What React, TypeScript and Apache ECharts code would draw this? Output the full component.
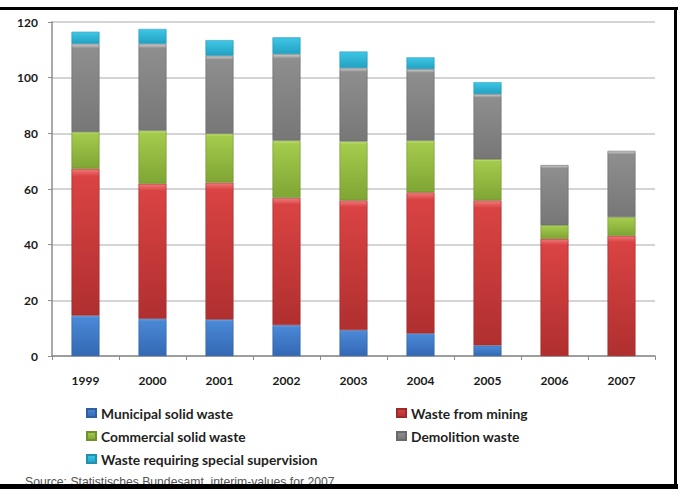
import React, { useEffect, useRef } from "react";
import * as echarts from "echarts";

const years = ["1999", "2000", "2001", "2002", "2003", "2004", "2005", "2006", "2007"];
const municipal = [14.5, 13.4, 13.1, 11.1, 9.3, 8.1, 3.8, 0, 0];
const mining = [52.8, 48.5, 49.2, 45.7, 46.6, 50.7, 52.1, 42.1, 43.2];
const commercial = [13.2, 19.1, 17.6, 20.6, 21.2, 18.6, 14.8, 4.9, 6.7];
const demolition = [31.7, 31.2, 28.0, 31.1, 26.4, 25.7, 23.4, 21.6, 23.8];
const special = [4.3, 5.3, 5.6, 6.0, 5.9, 4.2, 4.3, 0, 0];
const seriesNames = [
  "Municipal solid waste",
  "Waste from mining",
  "Commercial solid waste",
  "Demolition waste",
  "Waste requiring special supervision",
];
const sourceText = "Source: Statistisches Bundesamt, interim-values for 2007";

function grad(hi: string, light: string, dark: string) {
  return new echarts.graphic.LinearGradient(0, 0, 0, 1, [
    { offset: 0, color: hi },
    { offset: 0.05, color: light },
    { offset: 1, color: dark },
  ]);
}

const palette = [
  grad("#7db6ee", "#4a88d6", "#3468b4"),
  grad("#f07a7a", "#da4343", "#b02f2f"),
  grad("#c6e27e", "#a4cb4c", "#7fa534"),
  grad("#cfcfcf", "#8e8e8e", "#777777"),
  grad("#8ae6f8", "#3dc4e4", "#22a2c2"),
];
const borders = ["#2f5f9e", "#9c2a2a", "#6f9130", "#6a6a6a", "#2092b0"];

export default function App() {
  const ref = useRef<HTMLDivElement>(null);
  useEffect(() => {
    if (!ref.current) return;
    const chart = echarts.init(ref.current, undefined, { renderer: "svg" });
    const dataSets = [municipal, mining, commercial, demolition, special];
    const legendText = {
      fontFamily: "Lato",
      fontWeight: "bold" as const,
      fontSize: 13.8,
      color: "#1f1f1f",
      lineHeight: 16,
    };
    const legendBase = {
      orient: "vertical",
      top: 405,
      padding: 0,
      itemWidth: 9,
      itemHeight: 8,
      itemGap: 7,
      icon: "rect",
      textStyle: legendText,
      selectedMode: false,
    };
    chart.setOption({
      animation: false,
      backgroundColor: "#ffffff",
      grid: { left: 52, right: 25, top: 22, bottom: 133 },
      legend: [
        { ...legendBase, data: [seriesNames[0], seriesNames[2], seriesNames[4]], left: 86 },
        { ...legendBase, data: [seriesNames[1], seriesNames[3]], left: 396 },
      ],
      xAxis: {
        type: "category",
        data: years,
        axisLine: { lineStyle: { color: "#8c8c8c", width: 1.5 } },
        axisTick: { show: true, length: 4, lineStyle: { color: "#8c8c8c" } },
        axisLabel: {
          margin: 18,
          fontFamily: "Lato",
          fontWeight: "bold",
          fontSize: 12,
          color: "#1a1a1a",
        },
      },
      yAxis: {
        type: "value",
        min: 0,
        max: 120,
        interval: 20,
        axisLine: { show: true, lineStyle: { color: "#8c8c8c", width: 1.5 } },
        axisTick: { show: true, length: 4, lineStyle: { color: "#8c8c8c" } },
        splitLine: { lineStyle: { color: "#c6c6c6", width: 1.5 } },
        axisLabel: {
          margin: 14,
          fontFamily: "Lato",
          fontWeight: "bold",
          fontSize: 12,
          color: "#1a1a1a",
        },
      },
      series: dataSets.map((d, i) => ({
        name: seriesNames[i],
        type: "bar",
        stack: "total",
        barWidth: 28,
        data: d.map((v) => (v === 0 ? null : v)),
        itemStyle: { color: palette[i], borderColor: borders[i], borderWidth: 0.6 },
      })),
      graphic: [
        {
          type: "text",
          left: 25,
          top: 476,
          style: {
            text: sourceText,
            fontFamily: "Liberation Sans",
            fontSize: 12.2,
            fill: "#555555",
          },
          z: 10,
        },
        { type: "rect", shape: { x: 0, y: 7, width: 678, height: 3 }, style: { fill: "#000" }, z: 20 },
        { type: "rect", shape: { x: 674, y: 7, width: 3, height: 482 }, style: { fill: "#000" }, z: 20 },
        { type: "rect", shape: { x: 0, y: 484, width: 678, height: 5 }, style: { fill: "#000" }, z: 20 },
      ],
    });
    return () => chart.dispose();
  }, []);
  return (
    <div
      ref={ref}
      style={{ position: "fixed", left: 0, top: 0, width: 680, height: 489 }}
    />
  );
}
